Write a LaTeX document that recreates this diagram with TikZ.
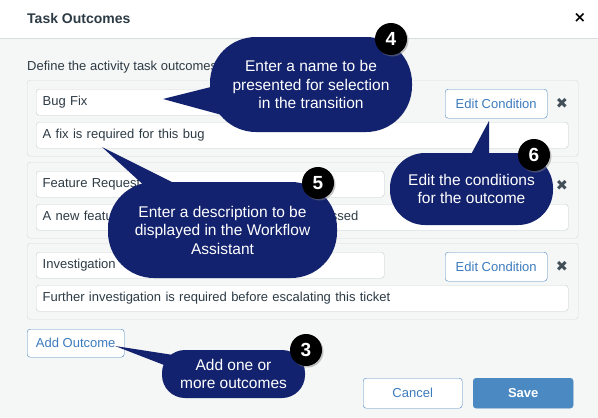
\documentclass[tikz,border=0pt]{standalone}
\usepackage{fontspec}
\setmainfont{Liberation Sans}
\newfontfamily\symfont{DejaVu Sans}
\usetikzlibrary{positioning, calc, shadows}

\definecolor{bodybg}{RGB}{245,246,246}
\definecolor{sepline}{RGB}{218,221,224}
\definecolor{panelline}{RGB}{214,218,222}
\definecolor{fieldline}{RGB}{200,205,210}
\definecolor{ink}{RGB}{45,59,69}
\definecolor{linkblue}{RGB}{60,123,190}
\definecolor{btnline}{RGB}{74,135,195}
\definecolor{savefill}{RGB}{74,137,194}
\definecolor{navy}{RGB}{19,34,110}

\tikzset{
  ui/.style={font=\fontsize{13}{15}\selectfont, text=ink},
  panel/.style={draw=panelline, fill=bodybg, rounded corners=3pt, anchor=north west,
    minimum width=551pt, minimum height=76pt},
  field/.style={ui, draw=fieldline, fill=white, rounded corners=3pt, anchor=north west,
    minimum height=26pt, inner xsep=6.5pt, text width=#1, align=left},
  btn/.style={ui, draw=btnline, fill=white, text=linkblue, rounded corners=3pt,
    anchor=north west, minimum height=29pt},
  bubble/.style={fill=navy, text=white, align=center,
    font=\fontsize{15.5}{18.5}\selectfont},
  callout/.style={fill=navy},
  badge/.style={circle, fill=black, text=white, minimum size=32pt, inner sep=0pt,
    font=\bfseries\fontsize{19}{19}\selectfont,
    drop shadow={opacity=0.45, shadow xshift=1.5pt, shadow yshift=-1.5pt}},
  delx/.style={font=\symfont\fontsize{14.5}{14.5}\selectfont, text=ink!90}
}

\begin{document}
\begin{tikzpicture}[x=1pt, y=-1pt]
\useasboundingbox (0,0) rectangle (598,418);

% dialog frame
\fill[white] (0,0) rectangle (598,38);
\fill[bodybg] (0,38) rectangle (598,418);
\draw[sepline] (0,38) -- (598,38);
\node[anchor=west, inner xsep=0pt, text=ink, font=\bfseries\fontsize{14}{16}\selectfont] (title) at (27,18) {Task Outcomes};
\node[text=black, font=\symfont\bfseries\fontsize{15}{15}\selectfont] (close) at (580,18) {×};
\node[ui, anchor=west, inner xsep=0pt] (intro) at (27,67) {Define the activity task outcomes};

% outcome rows
\foreach \ry/\nm/\ds [count=\r] in {80/Bug Fix/A fix is required for this bug,
    162/Feature Request/A new feature was requested and has to be assessed,
    243/Investigation/Further investigation is required before escalating this ticket} {
  \node[panel] (row\r) at (27,\ry) {};
  \node[field=335pt] (name\r) at (36,\ry+9) {\nm};
  \node[field=519pt] (desc\r) at (36,\ry+42) {\ds};
  \ifnum\r=2\else
    \node[btn, minimum width=102pt] (edit\r) at (445,\ry+9) {Edit Condition};
  \fi
  \node[delx] (del\r) at (562,\ry+23) {✖};
}

% footer buttons
\node[btn, minimum width=97pt, minimum height=28pt] (addout) at (27,329) {Add Outcome};
\node[btn, minimum width=99pt, minimum height=30pt] (cancel) at (363,378) {Cancel};
\node[btn, draw=savefill, fill=savefill, text=white, font=\bfseries\fontsize{13}{15}\selectfont,
  minimum width=100pt, minimum height=30pt] (save) at (473,378) {Save};

% callouts
\node[bubble, minimum width=202pt, minimum height=95pt, rounded corners=46pt] (tip4) at (311,84.5)
  {Enter a name to be\\presented for selection\\in the transition};
\coordinate (at4) at (163,99);
\fill[callout] (at4) -- ($(tip4.west)+(15,-1)$) -- ($(tip4.west)+(25,34)$) -- cycle;

\node[bubble, minimum width=229pt, minimum height=96pt, rounded corners=46pt] (tip5) at (222.5,230)
  {Enter a description to be\\displayed in the Workflow\\Assistant};
\coordinate (at5) at (102,147);
\fill[callout] (at5) -- ($(tip5.center)+(-42.5,-44)$) -- ($(tip5.center)+(-62.5,-30)$) -- cycle;

\node[bubble, minimum width=163pt, minimum height=72pt, rounded corners=35pt] (tip6) at (471.5,189)
  {Edit the conditions\\for the outcome};
\coordinate (at6) at (489,121);
\fill[callout] (at6) -- ($(tip6.center)+(-4,-28)$) -- ($(tip6.center)+(17.5,-28)$) -- cycle;

\node[bubble, minimum width=143pt, minimum height=48pt, rounded corners=23pt] (tip3) at (233.5,374)
  {Add one or\\more outcomes};
\coordinate (at3) at (115,346);
\fill[callout] (at3) -- ($(tip3.west)+(18,-18)$) -- ($(tip3.west)+(10,-6)$) -- cycle;

% step badges
\node[badge] (num4) at (391,39) {4};
\node[badge] (num5) at (318,183) {5};
\node[badge] (num6) at (534,155) {6};
\node[badge] (num3) at (306,350) {3};

\end{tikzpicture}
\end{document}
